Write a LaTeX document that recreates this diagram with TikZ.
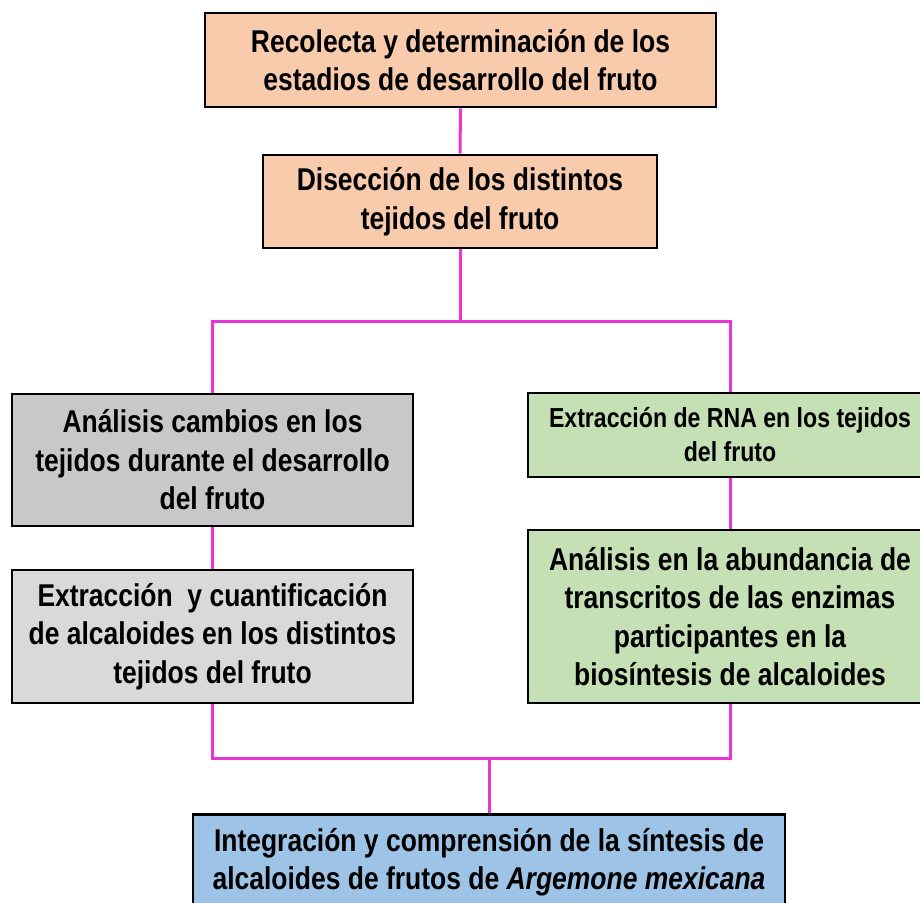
\documentclass[tikz,border=0pt]{standalone}
\usepackage{fontspec}
\setmainfont{Liberation Sans}[FakeStretch=0.84]
\definecolor{peach}{RGB}{248,203,173}
\definecolor{grayA}{RGB}{200,200,200}
\definecolor{grayB}{RGB}{217,217,217}
\definecolor{greenA}{RGB}{197,224,180}
\definecolor{blueA}{RGB}{157,195,230}
\definecolor{magentaA}{RGB}{232,52,216}
\begin{document}
\begin{tikzpicture}[x=1pt,y=-1pt,
  box/.style={draw=black, line width=2.8pt, rectangle, inner sep=0pt, align=center,
    font=\fontsize{31.5}{38.5}\selectfont\bfseries},
  conn/.style={draw=magentaA, line width=3pt}]
\useasboundingbox (0,0) rectangle (920,902);
\clip (0,0) rectangle (920,902);
\node[box, fill=peach, minimum width=511pt, minimum height=94pt] (b1) at (460.5,60)
  {Recolecta y determinación de los\\estadios de desarrollo del fruto};
\node[box, fill=peach, minimum width=394pt, minimum height=93pt] (b2) at (460,201.5)
  {Disección de los distintos\\tejidos del fruto};
\node[box, fill=grayA, minimum width=401pt, minimum height=132pt] (b3) at (212.5,460)
  {Análisis cambios en los\\tejidos durante el desarrollo\\del fruto};
\node[box, fill=greenA, minimum width=404pt, minimum height=84pt,
  font=\fontsize{27.5}{34}\selectfont\bfseries] (b4) at (730,435)
  {Extracción de RNA en los tejidos\\del fruto};
\node[box, fill=grayB, minimum width=401pt, minimum height=133pt] (b5) at (212.5,636.5)
  {Extracción\ \ y cuantificación\\de alcaloides en los distintos\\tejidos del fruto};
\node[box, fill=greenA, minimum width=404pt, minimum height=173pt] (b6) at (730,616.5)
  {Análisis en la abundancia de\\transcritos de las enzimas\\participantes en la\\biosíntesis de alcaloides};
\node[box, fill=blueA, minimum width=592pt, minimum height=106pt, anchor=north] (b7) at (489,813)
  {};
\node[font=\fontsize{31.5}{38.5}\selectfont\bfseries, align=center, anchor=center] (t7) at (489,862)
  {Integración y comprensión de la síntesis de\\alcaloides de frutos de \textit{Argemone mexicana}};
\coordinate (split) at (460,321);
\coordinate (join) at (489,758);
\draw[conn] (b1.south) -- (b2.north);
\draw[conn] (b2.south) -- (split);
\draw[conn] (b3.north) |- (split) -| (b4.north);
\draw[conn] (b3.south) -- (b5.north);
\draw[conn] (b4.south) -- (b6.north);
\draw[conn] (b5.south) |- (join) -| (b6.south);
\draw[conn] (join) -- (b7.north);
\end{tikzpicture}
\end{document}
